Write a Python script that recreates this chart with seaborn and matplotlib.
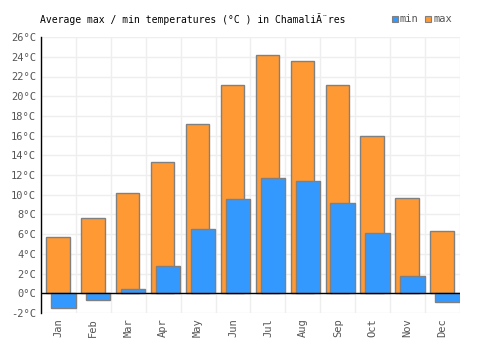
import matplotlib
matplotlib.use("Agg")
import matplotlib.pyplot as plt
from matplotlib.ticker import MultipleLocator, FuncFormatter
import pandas as pd
import seaborn as sns

# %% data
months = ["Jan", "Feb", "Mar", "Apr", "May", "Jun",
          "Jul", "Aug", "Sep", "Oct", "Nov", "Dec"]
t_max = [5.7, 7.6, 10.2, 13.3, 17.2, 21.1, 24.2, 23.6, 21.1, 16.0, 9.7, 6.3]
t_min = [-1.5, -0.7, 0.4, 2.8, 6.5, 9.6, 11.7, 11.4, 9.2, 6.1, 1.7, -0.9]
title = "Average max / min temperatures (°C ) in Chamali\u00c3\u00a8res"

df = pd.DataFrame({"month": months, "max": t_max, "min": t_min})

# %% style
sns.set_style("white")
plt.rcParams["font.family"] = ["DejaVu Sans Mono"]
ORANGE = "#FF9933"
BLUE = "#3399FF"
EDGE = "#808080"
TXT = "#555555"

fig = plt.figure(figsize=(5, 3.5), dpi=100)
ax = fig.add_axes([0.082, 0.106, 0.838, 0.788])

# max bars first, min bars drawn on top and shifted right
sns.barplot(data=df, x="month", y="max", color=ORANGE, width=0.67,
            edgecolor=EDGE, linewidth=1, saturation=1, ax=ax)
n = len(ax.patches)
sns.barplot(data=df, x="month", y="min", color=BLUE, width=0.70,
            edgecolor=EDGE, linewidth=1, saturation=1, ax=ax)
for i, p in enumerate(ax.patches):
    shift = -0.015 if i < n else 0.14
    p.set_x(p.get_x() + shift)

ax.set_xlim(-0.5, 11.5)
ax.set_ylim(-2, 26)
ax.yaxis.set_major_locator(MultipleLocator(2))
ax.yaxis.set_major_formatter(FuncFormatter(lambda v, _: f"{v:.0f}°C"))
ax.set_xticks(range(12))
ax.set_xticks([i + 0.5 for i in range(-1, 12)], minor=True)
ax.set_xticklabels(months, rotation=90)
ax.tick_params(axis="both", labelsize=7.5, colors=TXT, length=0)
ax.tick_params(axis="x", which="minor", length=0)

ax.grid(True, axis="y", color="#eeeeee", linewidth=1)
ax.grid(True, axis="x", which="minor", color="#eeeeee", linewidth=1)
ax.set_axisbelow(True)
for s in ["top", "right", "bottom"]:
    ax.spines[s].set_visible(False)
ax.spines["left"].set_color("black")
ax.spines["left"].set_linewidth(1)
ax.axhline(0, color="black", linewidth=1, zorder=5)
ax.set_xlabel("")
ax.set_ylabel("")

fig.text(0.08, 0.945, title, fontsize=7, color="black", va="center")

# legend
fig.patches.append(plt.Rectangle((0.784, 0.937), 0.012, 0.017, facecolor=BLUE,
                                 edgecolor=EDGE, linewidth=0.8, transform=fig.transFigure))
fig.text(0.80, 0.945, "min", fontsize=7.5, color=TXT, va="center")
fig.patches.append(plt.Rectangle((0.850, 0.937), 0.012, 0.017, facecolor=ORANGE,
                                 edgecolor=EDGE, linewidth=0.8, transform=fig.transFigure))
fig.text(0.866, 0.945, "max", fontsize=7.5, color=TXT, va="center")

fig.savefig("out.png", dpi=100)
